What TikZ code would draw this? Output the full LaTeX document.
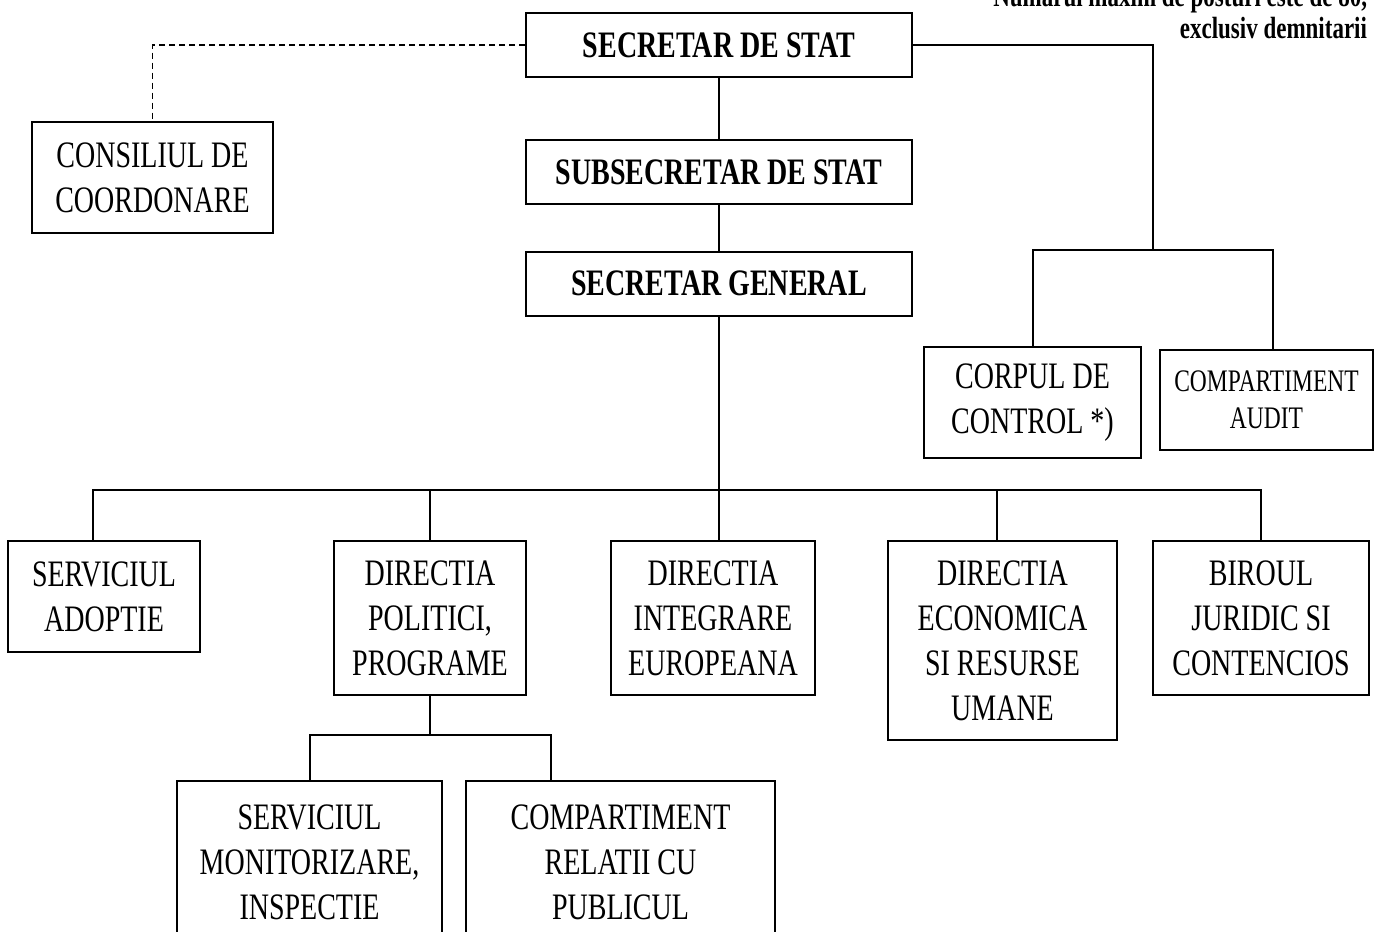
\documentclass[tikz,border=0pt]{standalone}
\usepackage{fontspec}
\setmainfont{Liberation Serif}[FakeStretch=0.75]
\usepackage{tikz}

\begin{document}
\begin{tikzpicture}[x=0.75pt,y=-0.75pt,line width=1.5pt,
                    unit/.style={draw,align=center,inner sep=0pt,
                                 font=\fontsize{28}{33.75}\selectfont},
                    head/.style={unit,minimum width=289.5pt,minimum height=48pt,
                                 font=\bfseries\fontsize{28}{33.75}\selectfont}]

  \clip (0,0) rectangle (1375,932);

  \node[head] (sds)  at (719,45)    {SECRETAR DE STAT};
  \node[head] (subs) at (719,172)   {SUBSECRETAR DE STAT};
  \node[head] (gen)  at (719,283.5) {SECRETAR GENERAL};

  \node[unit,minimum width=181pt,minimum height=83pt] (cons) at (152.5,177.5) {CONSILIUL DE\\COORDONARE};
  \node[unit,minimum width=163pt,minimum height=83pt] (corp) at (1032.5,402.5) {CORPUL DE\\CONTROL *)};
  \node[unit,minimum width=160pt,minimum height=75pt,
        font=\fontsize{23.5}{28}\selectfont] (audit) at (1266.5,400) {COMPARTIMENT\\AUDIT};

  \node[unit,minimum width=144pt,minimum height=83pt]    (adopt)  at (104,596.5)  {SERVICIUL\\ADOPTIE};
  \node[unit,minimum width=144pt,minimum height=115.5pt] (polit)  at (430,618)    {DIRECTIA\\POLITICI,\\PROGRAME};
  \node[unit,minimum width=153pt,minimum height=115.5pt] (integr) at (713,618)    {DIRECTIA\\INTEGRARE\\EUROPEANA};
  \node[unit,minimum width=172pt,minimum height=149pt]   (econ)   at (1002.5,640.5) {DIRECTIA\\ECONOMICA\\SI RESURSE\\UMANE};
  \node[unit,minimum width=162pt,minimum height=115.5pt] (birou)  at (1261,618)   {BIROUL\\JURIDIC SI\\CONTENCIOS};

  \node[unit,minimum width=199pt,minimum height=121.5pt] (monit)   at (309.5,862) {SERVICIUL\\MONITORIZARE,\\INSPECTIE};
  \node[unit,minimum width=232pt,minimum height=121.5pt] (relatii) at (620.5,862) {COMPARTIMENT\\RELATII CU\\PUBLICUL};

  \node[anchor=south east,inner sep=0pt,align=right,
        font=\bfseries\fontsize{23}{24}\selectfont] (nota) at (1368,40)
        {Numarul maxim de posturi este de 80,\\exclusiv demnitarii};

  \coordinate (ctrl) at (1153,250);
  \coordinate (bus)  at (719,490);
  \coordinate (pol)  at (430,735);

  \draw[dash pattern=on 4.5pt off 3pt,line width=1.2pt] (sds.west) -| (cons.north);
  \draw (sds) -- (subs) -- (gen);
  \draw (sds.east) -| (ctrl);
  \draw (corp.north) |- (ctrl) -| ([xshift=5pt]audit.north);
  \draw (gen.south) -- (bus);
  \draw ([xshift=-8pt]adopt.north) |- (bus) -| (birou.north);
  \draw (polit.north) -- (polit.north |- bus);
  \draw ([xshift=4.5pt]integr.north) -- (bus);
  \draw ([xshift=-4pt]econ.north) -- ([xshift=-4pt]econ.north |- bus);
  \draw (polit.south) -- (pol);
  \draw (monit.north) |- (pol) -| ([xshift=-52pt]relatii.north);

\end{tikzpicture}
\end{document}
